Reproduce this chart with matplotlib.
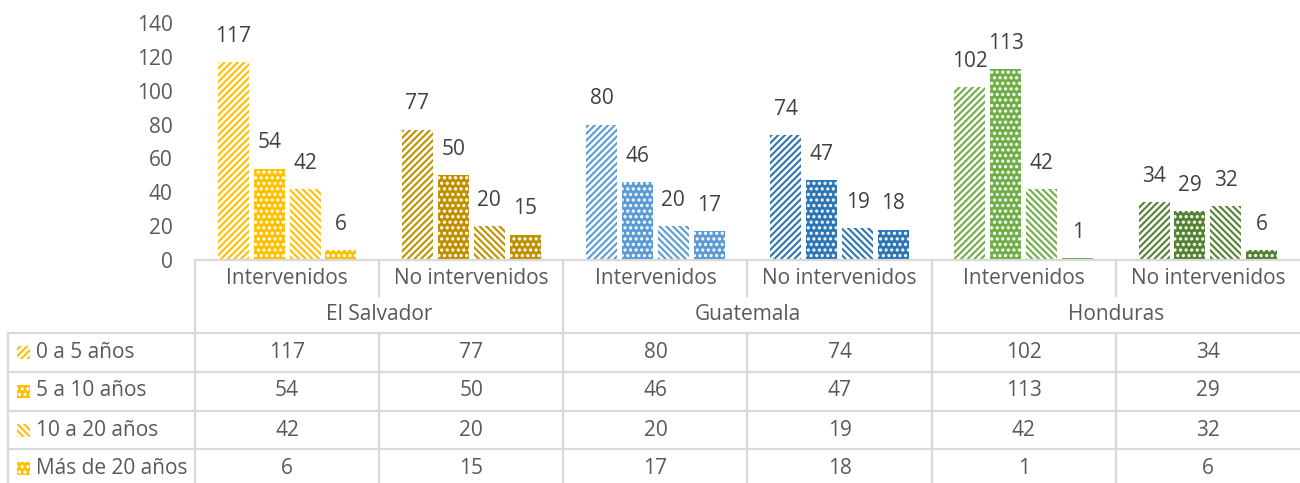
import matplotlib
matplotlib.use("Agg")
import matplotlib.pyplot as plt
import matplotlib.transforms as mtransforms
from matplotlib.patches import Rectangle
from matplotlib.lines import Line2D
import numpy as np

# ---- data ----
categories = ['Intervenidos', 'No intervenidos', 'Intervenidos', 'No intervenidos', 'Intervenidos', 'No intervenidos']
countries = ['El Salvador', 'Guatemala', 'Honduras']
series_names = ['0 a 5 años', '5 a 10 años', '10 a 20 años', 'Más de 20 años']
s_0_5 = [117, 77, 80, 74, 102, 34]
s_5_10 = [54, 50, 46, 47, 113, 29]
s_10_20 = [42, 20, 20, 19, 42, 32]
s_20_plus = [6, 15, 17, 18, 1, 6]
series_values = [s_0_5, s_5_10, s_10_20, s_20_plus]
yticks = [0, 20, 40, 60, 80, 100, 120, 140]

# ---- style ----
cat_colors = ['#FFC000', '#BF9000', '#5B9BD5', '#2E75B6', '#70AD47', '#548235']
hatches = ['/////', '...', '\\\\\\\\\\', '...']
diag = [True, False, True, False]
TXT = '#595959'
LBL = '#404040'
GRID = '#D9D9D9'
FONT = 'Open Sans'
FS = 15

plt.rcParams['font.family'] = [FONT, 'DejaVu Sans']
plt.rcParams['hatch.linewidth'] = 1.5

W, H = 1300, 483
fig = plt.figure(figsize=(W / 100, H / 100), dpi=100)

def fy(ypix):
    return 1 - ypix / H

def fx(xpix):
    return xpix / W

ax_left, ax_right = 195, 1300
y0pix, y140pix = 260, 23
ax = fig.add_axes([fx(ax_left), fy(y0pix), (ax_right - ax_left) / W, (y0pix - y140pix) / H])
ax.set_xlim(-0.5, 5.5)
ax.set_ylim(0, 140)
for sp in ['top', 'right', 'left']:
    ax.spines[sp].set_visible(False)
ax.spines['bottom'].set_color(GRID)
ax.spines['bottom'].set_linewidth(1.6)
ax.set_xticks([])
ax.set_yticks(yticks)
ax.tick_params(axis='y', length=0, pad=16, labelsize=FS, labelcolor=TXT)

x = np.arange(len(categories))
bw = 0.168
step = 0.195
for i, vals in enumerate(series_values):
    off = (i - 1.5) * step
    for j, v in enumerate(vals):
        c = cat_colors[j]
        if diag[i]:
            ax.bar(x[j] + off, v, bw, facecolor='white', edgecolor=c, linewidth=0, hatch=hatches[i])
        else:
            ax.bar(x[j] + off, v, bw, facecolor=c, edgecolor='white', linewidth=0, hatch=hatches[i])
        ax.annotate(str(v), (x[j] + off, v), xytext=(0, 18.5), textcoords='offset points',
                    ha='center', va='center', fontsize=FS, color=LBL)

# ---- data table ----
bt = mtransforms.blended_transform_factory(ax.transData, fig.transFigure)
ft = fig.transFigure

def hline(x0, x1, y):
    fig.add_artist(Line2D([fx(x0), fx(x1)], [fy(y), fy(y)], transform=ft, color=GRID, lw=1.6))

def vline(xp, y0, y1):
    fig.add_artist(Line2D([fx(xp), fx(xp)], [fy(y0), fy(y1)], transform=ft, color=GRID, lw=1.6))

row_lines = [333, 372, 410.5, 449]
bottom = 487
for yl in row_lines:
    hline(8, 1300, yl)
vline(8, 333, bottom)
vline(195, 260, bottom)
cw = (ax_right - ax_left) / 6
for k in range(1, 6):
    xp = ax_left + k * cw
    if k % 2 == 1:
        vline(xp, 260, 296)
        vline(xp, 333, bottom)
    else:
        vline(xp, 260, bottom)

for j, cat in enumerate(categories):
    ax.text(x[j], fy(278), cat, transform=bt, ha='center', va='center', fontsize=FS, color=TXT, clip_on=False)
for k, ctry in enumerate(countries):
    ax.text(2 * k + 0.5, fy(315), ctry, transform=bt, ha='center', va='center', fontsize=FS, color=TXT, clip_on=False)

row_centers = [352, 391, 430, 468]
for i, name in enumerate(series_names):
    yc = row_centers[i]
    if diag[i]:
        rect = Rectangle((fx(17), fy(yc + 6.5)), 13 / W, 13 / H, transform=ft,
                         facecolor='white', edgecolor=cat_colors[0], linewidth=0, hatch=hatches[i])
    else:
        rect = Rectangle((fx(17), fy(yc + 6.5)), 13 / W, 13 / H, transform=ft,
                         facecolor=cat_colors[0], edgecolor='white', linewidth=0, hatch=hatches[i])
    fig.add_artist(rect)
    fig.text(fx(36), fy(yc), name, ha='left', va='center', fontsize=FS, color=TXT)
    for j, v in enumerate(series_values[i]):
        ax.text(x[j], fy(yc), str(v), transform=bt, ha='center', va='center', fontsize=FS, color=TXT, clip_on=False)

fig.savefig('out.png', dpi=100)
